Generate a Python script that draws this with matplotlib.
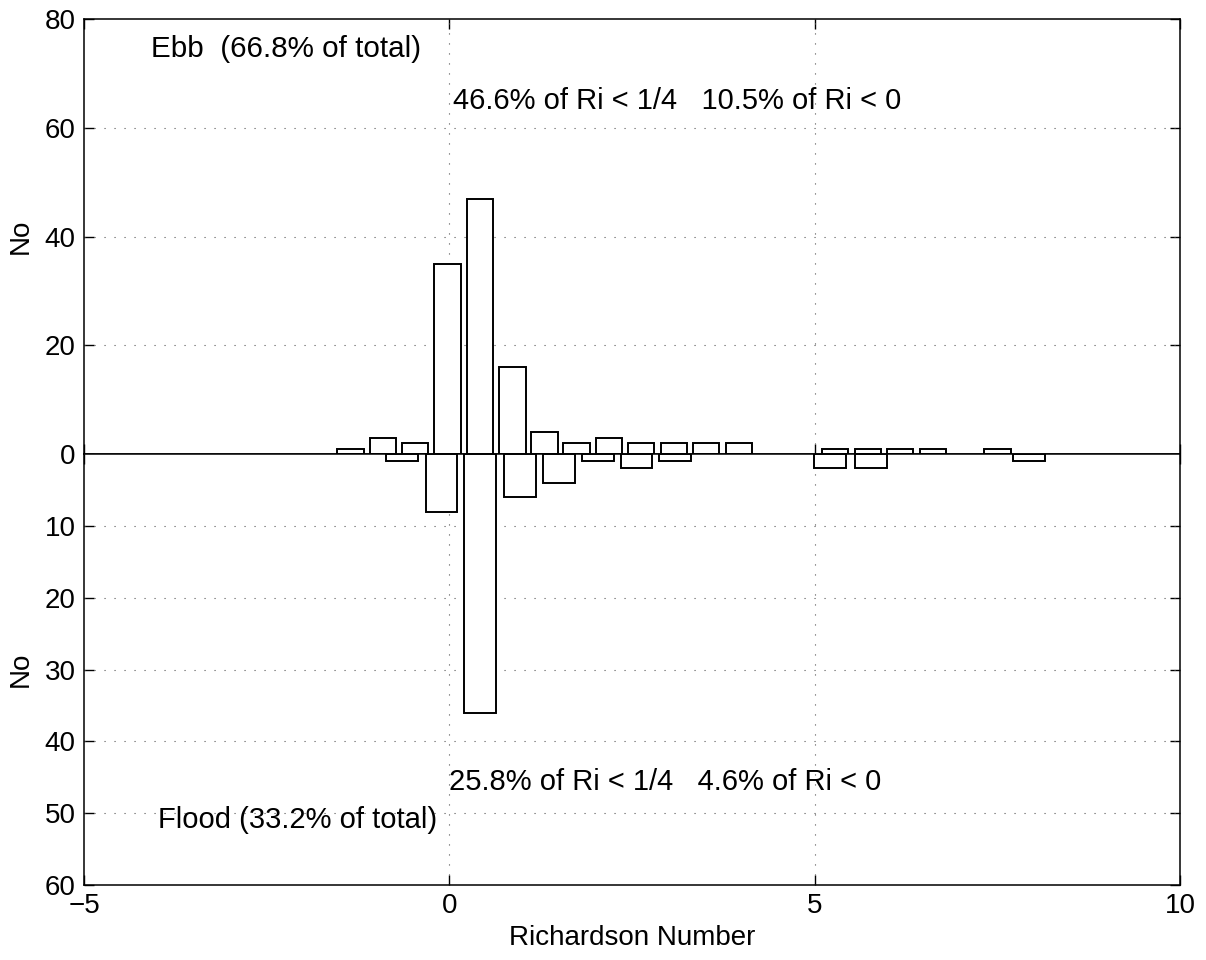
import numpy as np
import matplotlib
matplotlib.use('Agg')
from matplotlib import pyplot as plt

plt.rcParams['font.family'] = ['Liberation Sans', 'DejaVu Sans']
plt.rcParams['font.size'] = 20

# ebb histogram (upper panel), counts
ebb_ri = [-1.355, -0.913, -0.469, -0.025, 0.42, 0.862, 1.303, 1.741, 2.18,
          2.62, 3.07, 3.51, 3.96, 5.28, 5.73, 6.17, 6.62, 7.5]
ebb_n = [1, 3, 2, 35, 47, 16, 4, 2, 3, 2, 2, 2, 2, 1, 1, 1, 1, 1]
ebb_width = 0.36

# flood histogram (lower panel, drawn downwards)
flood_ri = [-0.646, -0.109, 0.42, 0.961, 1.499, 2.03, 2.56, 3.09, 5.21, 5.77, 7.93]
flood_n = [1, 8, 36, 6, 4, 1, 2, 1, 2, 2, 1]
flood_width = 0.435

ebb_ticks = [0, 20, 40, 60, 80]
flood_ticks = [10, 20, 30, 40, 50, 60]
x_ticks = [-5, 0, 5, 10]

ebb_label = 'Ebb  (66.8% of total)'
ebb_stats = '46.6% of Ri < 1/4   10.5% of Ri < 0'
flood_label = 'Flood (33.2% of total)'
flood_stats = '25.8% of Ri < 1/4   4.6% of Ri < 0'

grid_kw = dict(color='#555555', linewidth=0.8, linestyle=(0, (1, 8)))


def style_axes(ax):
    ax.set_xlim(-5, 10)
    ax.tick_params(direction='in', length=7, width=1, top=True, right=True,
                   labelsize=20, pad=6)
    for s in ax.spines.values():
        s.set_linewidth(1.1)
    ax.set_axisbelow(True)


fig = plt.figure(figsize=(12.06, 9.6), dpi=100)
left, width = 0.0697, 0.9088
ax_top = fig.add_axes([left, 0.527, width, 0.453])
ax_bot = fig.add_axes([left, 0.078, width, 0.449])

# upper: ebb
ax_top.bar(ebb_ri, ebb_n, width=ebb_width, color='white', edgecolor='black',
           linewidth=1.4, zorder=3)
ax_top.set_ylim(0, 80)
ax_top.set_yticks(ebb_ticks)
ax_top.set_xticks(x_ticks)
ax_top.tick_params(labelbottom=False)
style_axes(ax_top)
for y in ebb_ticks[1:-1]:
    ax_top.axhline(y, **grid_kw)
for x in x_ticks[1:-1]:
    ax_top.axvline(x, **grid_kw)
ax_top.set_ylabel('No', fontsize=20, labelpad=8)
ax_top.text(-4.08, 74.6, ebb_label, fontsize=21.3, va='center', ha='left')
ax_top.text(0.05, 65.0, ebb_stats, fontsize=21, va='center', ha='left')

# lower: flood, y axis reversed
ax_bot.bar(flood_ri, flood_n, width=flood_width, color='white', edgecolor='black',
           linewidth=1.4, zorder=3)
ax_bot.set_ylim(60, 0)
ax_bot.set_yticks(flood_ticks)
ax_bot.set_xticks(x_ticks)
ax_bot.set_xticklabels(['\u22125', '0', '5', '10'])
style_axes(ax_bot)
for y in flood_ticks[:-1]:
    ax_bot.axhline(y, **grid_kw)
for x in x_ticks[1:-1]:
    ax_bot.axvline(x, **grid_kw)
ax_bot.set_ylabel('No', fontsize=20, labelpad=8)
ax_bot.set_xlabel('Richardson Number', fontsize=20, labelpad=4)
ax_bot.text(-0.01, 45.7, flood_stats, fontsize=21, va='center', ha='left')
ax_bot.text(-3.99, 51.0, flood_label, fontsize=21, va='center', ha='left')

fig.savefig('out.png', dpi=100)
